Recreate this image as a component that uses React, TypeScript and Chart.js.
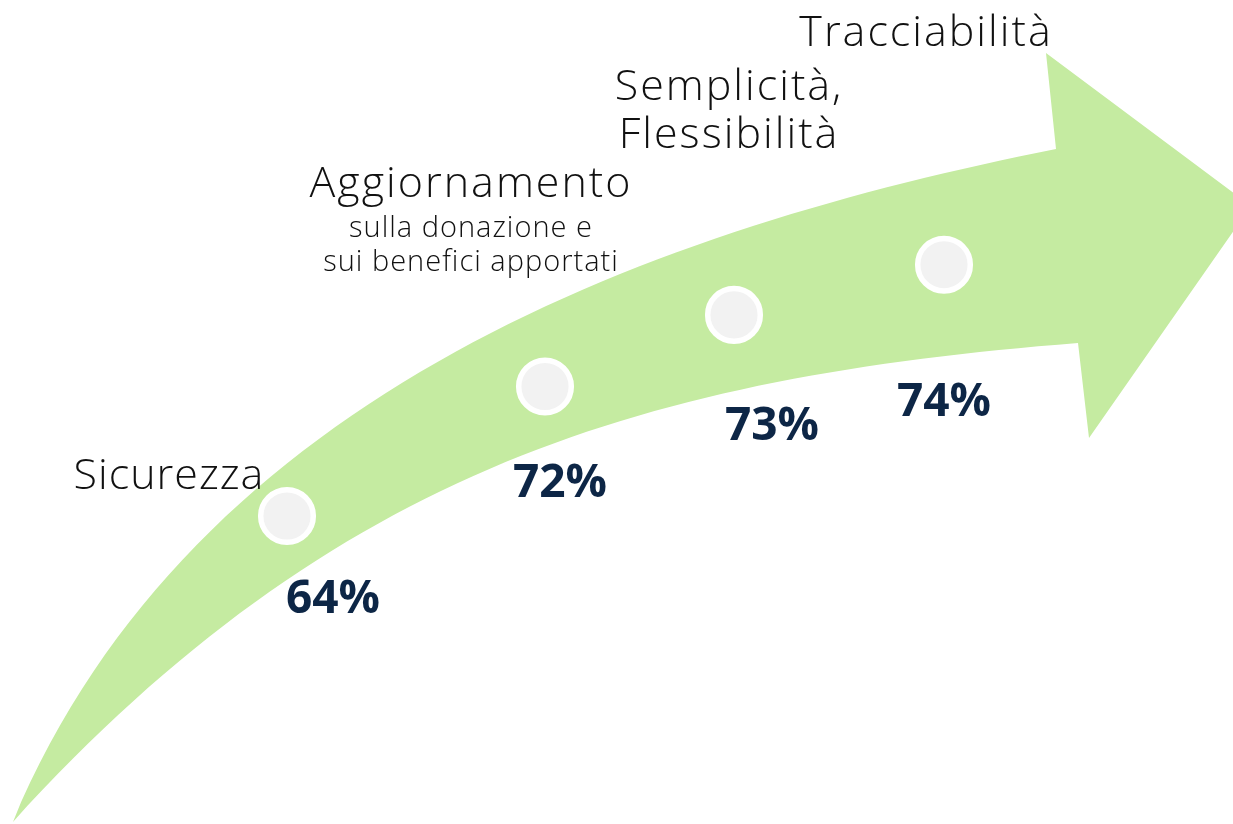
import React, { useEffect, useRef } from "react";
import { Chart, registerables } from "chart.js";

Chart.register(...registerables);

// ---------- DATA ----------
const categories = ["Sicurezza", "Aggiornamento", "Semplicità, Flessibilità", "Tracciabilità"];
const headlineLines = [["Sicurezza"], ["Aggiornamento"], ["Semplicità,", "Flessibilità"], ["Tracciabilità"]];
const subtitleLines = [[], ["sulla donazione e", "sui benefici apportati"], [], []];
const values = [64, 72, 73, 74];
const valueLabels = values.map((v) => `${v}%`);

// ---------- LAYOUT (canvas space 1233 x 824) ----------
const W = 1233;
const H = 824;
// arrow body edges as cubic Bézier control points [start, c1, c2, end]
const upperEdge: number[][] = [[13, 822], [194, 388], [664, 227], [1056, 149]];
const lowerEdge: number[][] = [[13, 822], [336, 467], [649, 377], [1078, 343]];
const headTop = [1046, 53];
const headTip = [1251, 206];
const headBottom = [1089, 438];
const stepX = [287, 545, 734, 944];
const stepAcross = [0.45, 0.57, 0.52, 0.5];
const headlinePos = [[168, 489], [470, 197], [728, 100], [925, 46]];
const headlineSpacing = [1, 2, 2, 2];
const headlineLineGap = 48;
const subtitleBaseline = [0, 237, 0, 0];
const subtitleLineGap = 34;
const valuePos = [[333, 613], [560, 497], [772, 440], [944, 416]];

const ARROW_COLOR = "#c5eba1";
const VALUE_COLOR = "#0d2646";
const TEXT_COLOR = "#111111";

function bez(p: number[][], t: number): number[] {
  const u = 1 - t;
  const a = u * u * u, b = 3 * u * u * t, c = 3 * u * t * t, d = t * t * t;
  return [
    a * p[0][0] + b * p[1][0] + c * p[2][0] + d * p[3][0],
    a * p[0][1] + b * p[1][1] + c * p[2][1] + d * p[3][1],
  ];
}

function yAtX(p: number[][], x: number): number {
  let lo = 0, hi = 1;
  for (let k = 0; k < 40; k++) {
    const mid = (lo + hi) / 2;
    if (bez(p, mid)[0] < x) lo = mid;
    else hi = mid;
  }
  return bez(p, (lo + hi) / 2)[1];
}

const markerData = stepX.map((x, i) => {
  const u = yAtX(upperEdge, x);
  const l = yAtX(lowerEdge, x);
  return { x, y: u + stepAcross[i] * (l - u), label: categories[i], value: values[i] };
});

const arrowPlugin = {
  id: "arrowPlugin",
  beforeDatasetsDraw(chart: any) {
    const { ctx, scales } = chart;
    const xs = scales.x;
    const ys = scales.y;
    const m = (p: number[]) => [xs.getPixelForValue(p[0]), ys.getPixelForValue(p[1])];
    const up = upperEdge.map(m);
    const lo = lowerEdge.map(m);
    const t = m(headTop);
    const tip = m(headTip);
    const b = m(headBottom);
    ctx.save();
    ctx.beginPath();
    ctx.moveTo(up[0][0], up[0][1]);
    ctx.bezierCurveTo(up[1][0], up[1][1], up[2][0], up[2][1], up[3][0], up[3][1]);
    ctx.lineTo(t[0], t[1]);
    ctx.lineTo(tip[0], tip[1]);
    ctx.lineTo(b[0], b[1]);
    ctx.lineTo(lo[3][0], lo[3][1]);
    ctx.bezierCurveTo(lo[2][0], lo[2][1], lo[1][0], lo[1][1], lo[0][0], lo[0][1]);
    ctx.closePath();
    ctx.fillStyle = ARROW_COLOR;
    ctx.fill();
    ctx.restore();
  },
};

const textPlugin = {
  id: "textPlugin",
  afterDatasetsDraw(chart: any) {
    const { ctx, scales } = chart;
    const xs = scales.x;
    const ys = scales.y;
    ctx.save();
    ctx.textAlign = "center";
    ctx.textBaseline = "alphabetic";
    headlineLines.forEach((lines, i) => {
      ctx.fillStyle = TEXT_COLOR;
      ctx.font = '300 43px "Open Sans", "Noto Sans", sans-serif';
      (ctx as any).letterSpacing = `${headlineSpacing[i]}px`;
      lines.forEach((line, j) => {
        ctx.fillText(
          line,
          xs.getPixelForValue(headlinePos[i][0] + 1),
          ys.getPixelForValue(headlinePos[i][1] + j * headlineLineGap)
        );
      });
      ctx.font = '300 29px "Open Sans", "Noto Sans", sans-serif';
      (ctx as any).letterSpacing = "1px";
      subtitleLines[i].forEach((line, j) => {
        ctx.fillText(
          line,
          xs.getPixelForValue(headlinePos[i][0] + 1),
          ys.getPixelForValue(subtitleBaseline[i] + j * subtitleLineGap)
        );
      });
    });
    (ctx as any).letterSpacing = "0px";
    ctx.fillStyle = VALUE_COLOR;
    ctx.font = 'bold 46px "Open Sans", "Noto Sans", sans-serif';
    valueLabels.forEach((lab, i) => {
      ctx.fillText(lab, xs.getPixelForValue(valuePos[i][0]), ys.getPixelForValue(valuePos[i][1]));
    });
    ctx.restore();
  },
};

export default function App() {
  const ref = useRef<HTMLCanvasElement | null>(null);
  useEffect(() => {
    if (!ref.current) return;
    const chart = new Chart(ref.current, {
      type: "scatter",
      data: {
        datasets: [
          {
            label: "Passi",
            data: markerData,
            pointRadius: 26.3,
            pointHoverRadius: 26.3,
            borderWidth: 5.5,
            borderColor: "#ffffff",
            backgroundColor: "#f2f2f2",
            clip: false as any,
          },
        ],
      },
      options: {
        animation: false,
        responsive: true,
        maintainAspectRatio: false,
        layout: { padding: 0, autoPadding: false } as any,
        plugins: { legend: { display: false }, tooltip: { enabled: false } },
        scales: {
          x: { type: "linear", min: 0, max: W, display: false },
          y: { type: "linear", min: 0, max: H, reverse: true, display: false },
        },
      },
      plugins: [arrowPlugin, textPlugin],
    });
    return () => chart.destroy();
  }, []);
  return (
    <div style={{ position: "fixed", left: 0, top: 0, width: W, height: H, background: "#ffffff" }}>
      <canvas ref={ref} />
    </div>
  );
}
